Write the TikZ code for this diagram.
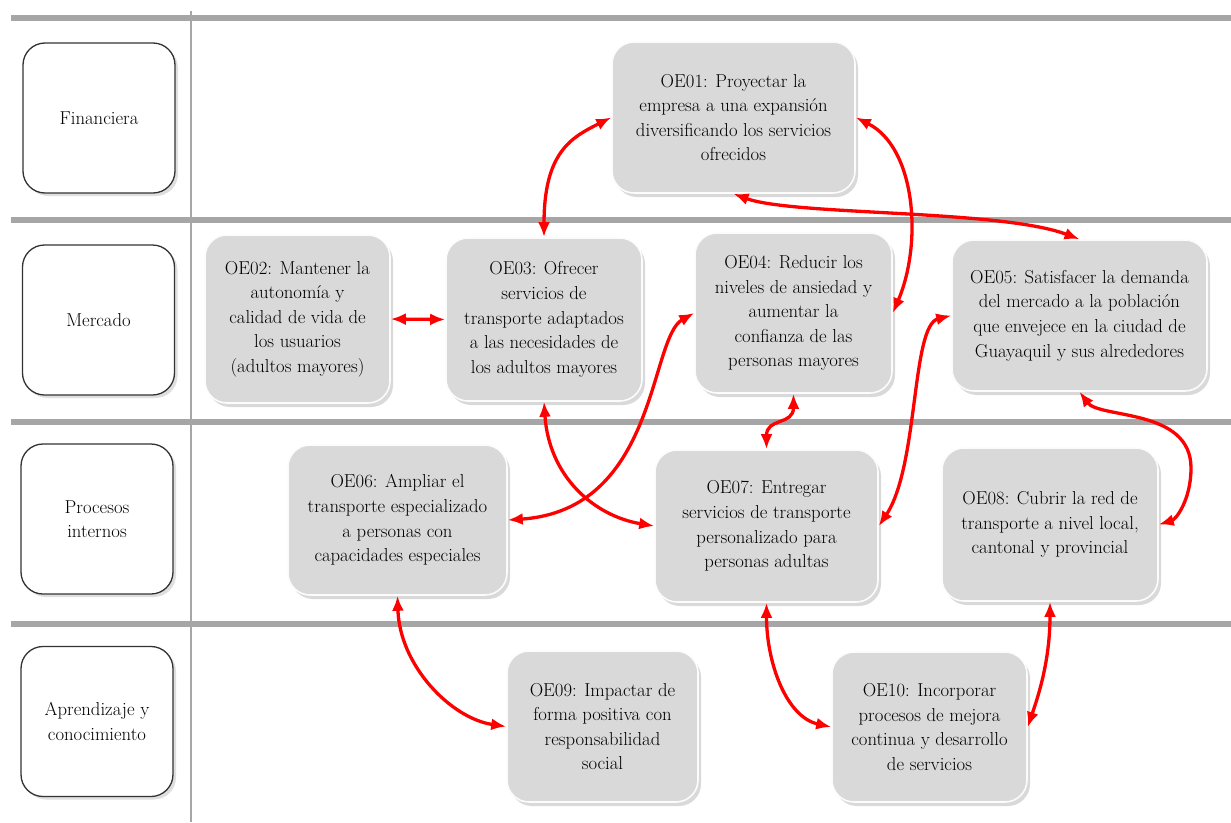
\documentclass[tikz,border=0pt]{standalone}
\usepackage{xcolor}
\definecolor{bargray}{RGB}{166,166,166}
\definecolor{boxgray}{RGB}{217,217,217}
\definecolor{linkred}{RGB}{255,0,0}
\usetikzlibrary{arrows.meta, shadows}

\begin{document}
\begin{tikzpicture}[x=1pt, y=-1pt,
  font=\fontsize{18.7}{24.6}\selectfont,
  persp/.style={draw=black!80, line width=1.3pt, fill=white, rounded corners=22pt,
    minimum width=152pt, minimum height=150pt, align=center, inner sep=0pt,
    drop shadow={shadow xshift=3pt, shadow yshift=-3pt, opacity=0.25}},
  obj/.style={fill=boxgray, draw=white!92!boxgray, line width=1.6pt, rounded corners=22pt,
    align=center, inner sep=0pt,
    drop shadow={shadow xshift=3pt, shadow yshift=-4pt, opacity=0.3}},
  link/.style={linkred, line width=3.3pt,
    {Latex[length=15pt,width=12pt]}-{Latex[length=15pt,width=12pt]}}]
\useasboundingbox (0,0) rectangle (1231,822);

% perspective bars
\foreach \y in {18,220,422,624}
  \draw[bargray, line width=6pt] (11,\y) -- (1231,\y);
\draw[bargray, line width=2pt] (191,11) -- (191,822);

% perspectives
\node[persp] (fin) at (99,118) {Financiera};
\node[persp] (mer) at (98.5,320) {Mercado};
\node[persp] (pro) at (97,519) {Procesos\\internos};
\node[persp] (apr) at (97,721.5) {Aprendizaje y\\conocimiento};

% objetivos estrategicos
\node[obj, minimum width=243pt, minimum height=151pt] (oe01) at (733.5,117.5)
  {OE01: Proyectar la\\empresa a una expansión\\diversificando los servicios\\ofrecidos};
\node[obj, minimum width=185pt, minimum height=168pt] (oe02) at (297.5,319)
  {OE02: Mantener la\\autonomía y\\calidad de vida de\\los usuarios\\(adultos mayores)};
\node[obj, minimum width=196pt, minimum height=163pt] (oe03) at (544,319.5)
  {OE03: Ofrecer\\servicios de\\transporte adaptados\\a las necesidades de\\los adultos mayores};
\node[obj, minimum width=197pt, minimum height=160pt] (oe04) at (793.5,313)
  {OE04: Reducir los\\niveles de ansiedad y\\aumentar la\\confianza de las\\personas mayores};
\node[obj, minimum width=255pt, minimum height=151pt] (oe05) at (1079.5,315.5)
  {OE05: Satisfacer la demanda\\del mercado a la población\\que envejece en la ciudad de\\Guayaquil y sus alrededores};
\node[obj, minimum width=219pt, minimum height=150pt] (oe06) at (397.5,520)
  {OE06: Ampliar el\\transporte especializado\\a personas con\\capacidades especiales};
\node[obj, minimum width=223pt, minimum height=152pt] (oe07) at (766.5,526)
  {OE07: Entregar\\servicios de transporte\\personalizado para\\personas adultas};
\node[obj, minimum width=216pt, minimum height=153pt] (oe08) at (1050,524.5)
  {OE08: Cubrir la red de\\transporte a nivel local,\\cantonal y provincial};
\node[obj, minimum width=191pt, minimum height=151pt] (oe09) at (602.5,726.5)
  {OE09: Impactar de\\forma positiva con\\responsabilidad\\social};
\node[obj, minimum width=195pt, minimum height=150pt] (oe10) at (929.5,727)
  {OE10: Incorporar\\procesos de mejora\\continua y desarrollo\\de servicios};

% relaciones causa-efecto
\draw[link] (oe03.north) .. controls +(0,-85) and +(-40,20) .. (oe01.west);
\draw[link] (oe01.east) .. controls +(60,30) and +(30,-70) .. (oe04.east);
\draw[link] (oe01.south) .. controls +(60,22) and +(-80,-30) .. (oe05.north);
\draw[link] (oe02.east) -- (oe03.west);
\draw[link] (oe03.south) .. controls +(5,75) and +(-60,-10) .. (oe07.west);
\draw[link] (oe06.east) .. controls +(150,-10) and +(-45,25) .. (oe04.west);
\draw[link] (oe07.north) .. controls +(0,-32) and +(0,32) .. (oe04.south);
\draw[link] (oe05.west) .. controls +(-40,10) and +(40,-60) .. (oe07.east);
\draw[link] (oe05.south) .. controls +(20,27) and +(0,-60) .. (1191,468)
  .. controls +(0,32) and +(17,-5) .. (oe08.east);
\draw[link] (oe06.south) .. controls +(2,70) and +(-55,-8) .. (oe09.west);
\draw[link] (oe07.south) .. controls +(0,60) and +(-45,-10) .. (oe10.west);
\draw[link] (oe08.south) .. controls +(0,60) and +(10,-30) .. (oe10.east);
\end{tikzpicture}
\end{document}
